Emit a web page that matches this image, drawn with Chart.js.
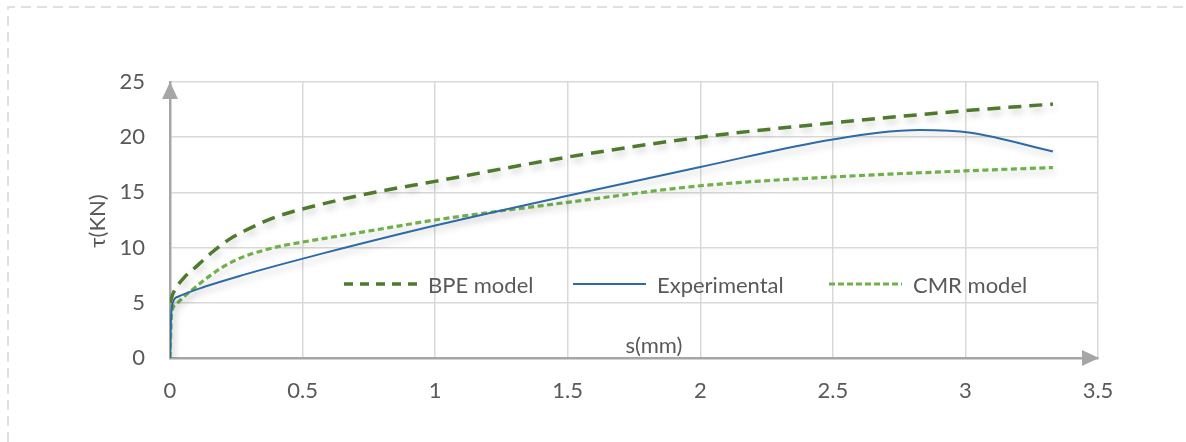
<!DOCTYPE html>
<html>
<head>
<meta charset="utf-8">
<script src="https://cdn.jsdelivr.net/npm/chart.js@4.4.1/dist/chart.umd.min.js"></script>
<style>
  html, body { margin:0; padding:0; background:#fff; }
  #wrap { position:relative; width:1186px; height:442px; }
  #legend { position:absolute; left:0; top:0; width:1186px; height:442px; pointer-events:none;
            font-family: Lato, "Open Sans", sans-serif; font-size:22px; color:#595959; }
  .item { position:absolute; top:270px; height:28px; display:flex; align-items:center; }
  .item svg { margin-right:11px; }
</style>
</head>
<body>
<div id="wrap">
  <canvas id="myChart" width="1186" height="442"></canvas>
  <div id="legend"></div>
</div>
<script>
// data
var sBPE   = [0, 0.0125, 0.05, 0.1, 0.16, 0.22, 0.28, 0.35, 0.42, 0.5, 0.75, 1, 1.5, 2, 2.5, 3, 3.33];
var tauBPE = [5, 5.9, 7.2, 8.3, 9.6, 10.7, 11.5, 12.3, 12.95, 13.5, 14.9, 16, 18.2, 20, 21.3, 22.4, 23];

var sExp   = [0, 0.003, 0.008, 0.03, 0.13, 0.28, 0.43, 0.58, 1, 1.5, 2, 2.5, 2.83, 3.02, 3.33];
var tauExp = [0, 3, 4.8, 5.55, 6.45, 7.55, 8.55, 9.5, 12.0, 14.7, 17.3, 19.8, 20.65, 20.4, 18.7];

var sCMR   = [0, 0.006, 0.02, 0.05, 0.08, 0.145, 0.21, 0.28, 0.36, 0.43, 0.5, 0.75, 1, 1.5, 2, 2.5, 3, 3.33];
var tauCMR = [0, 4.0, 4.8, 5.5, 6.1, 7.35, 8.4, 9.2, 9.8, 10.2, 10.5, 11.5, 12.5, 14.1, 15.6, 16.4, 16.95, 17.25];

var seriesNames = ['BPE model', 'Experimental', 'CMR model'];
var xTicks = [0, 0.5, 1, 1.5, 2, 2.5, 3, 3.5];
var yTicks = [0, 5, 10, 15, 20, 25];
var xTitle = 's(mm)';
var yTitle = 'τ(KN)';

function pts(xs, ys) {
  var out = [];
  for (var i = 0; i < xs.length; i++) out.push({x: xs[i], y: ys[i]});
  return out;
}

var colBPE = '#4E7A2E', colExp = '#2E6AA6', colCMR = '#70B04A';
var txt = '#595959', axisCol = '#A6A6A6', gridCol = '#D9D9D9';
var font = 'Lato, "Open Sans", sans-serif';

// soft shadow under the lines, like the excel effect
var shadowPlugin = {
  id: 'shadow',
  beforeDatasetDraw: function(chart) {
    var c = chart.ctx;
    c.save();
    c.shadowColor = 'rgba(0,0,0,0.22)';
    c.shadowBlur = 7;
    c.shadowOffsetX = 2;
    c.shadowOffsetY = 4;
  },
  afterDatasetDraw: function(chart) { chart.ctx.restore(); }
};

// outer dashed frame, arrows, axis titles
var decoPlugin = {
  id: 'deco',
  beforeDraw: function(chart) {
    var c = chart.ctx;
    c.save();
    c.strokeStyle = '#E0E0E0';
    c.lineWidth = 2;
    c.setLineDash([10, 6]);
    c.beginPath();
    c.moveTo(8, 442); c.lineTo(8, 7); c.lineTo(1186, 7);
    c.stroke();
    c.restore();
  },
  afterDraw: function(chart) {
    var c = chart.ctx, a = chart.chartArea;
    c.save();
    c.fillStyle = axisCol;
    c.beginPath();
    c.moveTo(a.left, a.top); c.lineTo(a.left - 8, a.top + 17); c.lineTo(a.left + 8, a.top + 17);
    c.closePath(); c.fill();
    c.beginPath();
    c.moveTo(a.right + 1, a.bottom); c.lineTo(a.right - 16, a.bottom - 8); c.lineTo(a.right - 16, a.bottom + 8);
    c.closePath(); c.fill();

    c.fillStyle = txt;
    c.font = '22px ' + font;
    c.textAlign = 'center';
    c.textBaseline = 'middle';
    c.fillText(xTitle, 654, 346);
    c.translate(98, 221);
    c.rotate(-Math.PI / 2);
    c.fillText(yTitle, 0, 0);
    c.restore();
  }
};

var chartdata = {
  datasets: [
    { label: seriesNames[0], data: pts(sBPE, tauBPE), borderColor: colBPE, borderWidth: 3.5,
      borderDash: [13, 8], pointRadius: 0, fill: false, cubicInterpolationMode: 'monotone' },
    { label: seriesNames[1], data: pts(sExp, tauExp), borderColor: colExp, borderWidth: 2,
      pointRadius: 0, fill: false, cubicInterpolationMode: 'monotone' },
    { label: seriesNames[2], data: pts(sCMR, tauCMR), borderColor: colCMR, borderWidth: 3.2,
      borderDash: [6, 3.5], pointRadius: 0, fill: false, cubicInterpolationMode: 'monotone' }
  ]
};

var ctx = document.getElementById('myChart');
var lineGraph = new Chart(ctx, {
  type: 'line',
  data: chartdata,
  plugins: [shadowPlugin, decoPlugin],
  options: {
    responsive: false,
    animation: false,
    layout: { padding: { top: 82, right: 88, left: 0, bottom: 0 } },
    plugins: { legend: { display: false }, tooltip: { enabled: false } },
    scales: {
      x: {
        type: 'linear', min: 0, max: 3.5,
        afterBuildTicks: function(s) { s.ticks = xTicks.map(function(v){ return {value: v}; }); },
        afterFit: function(s) { s.height = 84; },
        ticks: { color: txt, font: { family: font, size: 22 }, padding: 20, maxRotation: 0,
                 callback: function(v) { return String(v); } },
        grid: { color: gridCol, lineWidth: 1.5, drawTicks: false },
        border: { color: axisCol, width: 2.5 }
      },
      y: {
        min: 0, max: 25,
        afterBuildTicks: function(s) { s.ticks = yTicks.map(function(v){ return {value: v}; }); },
        afterFit: function(s) { s.width = 170; },
        ticks: { color: txt, font: { family: font, size: 22 }, padding: 25,
                 callback: function(v) { return String(v); } },
        grid: { color: gridCol, lineWidth: 1.5, drawTicks: false },
        border: { color: axisCol, width: 2.5 }
      }
    }
  }
});

// legend inside the plot, as html text
var legendPos = [
  { x: 344, dash: '9,7', w: 3.5, col: colBPE },
  { x: 573, dash: '',    w: 2,   col: colExp },
  { x: 829, dash: '6,3', w: 3.2, col: colCMR }
];
var lg = document.getElementById('legend');
for (var i = 0; i < seriesNames.length; i++) {
  var p = legendPos[i];
  var d = document.createElement('div');
  d.className = 'item';
  d.style.left = p.x + 'px';
  d.innerHTML = '<svg width="73" height="10"><line x1="0" y1="5" x2="73" y2="5" stroke="' + p.col +
    '" stroke-width="' + p.w + '"' + (p.dash ? ' stroke-dasharray="' + p.dash + '"' : '') + '/></svg>' +
    '<span>' + seriesNames[i] + '</span>';
  lg.appendChild(d);
}
</script>
</body>
</html>
